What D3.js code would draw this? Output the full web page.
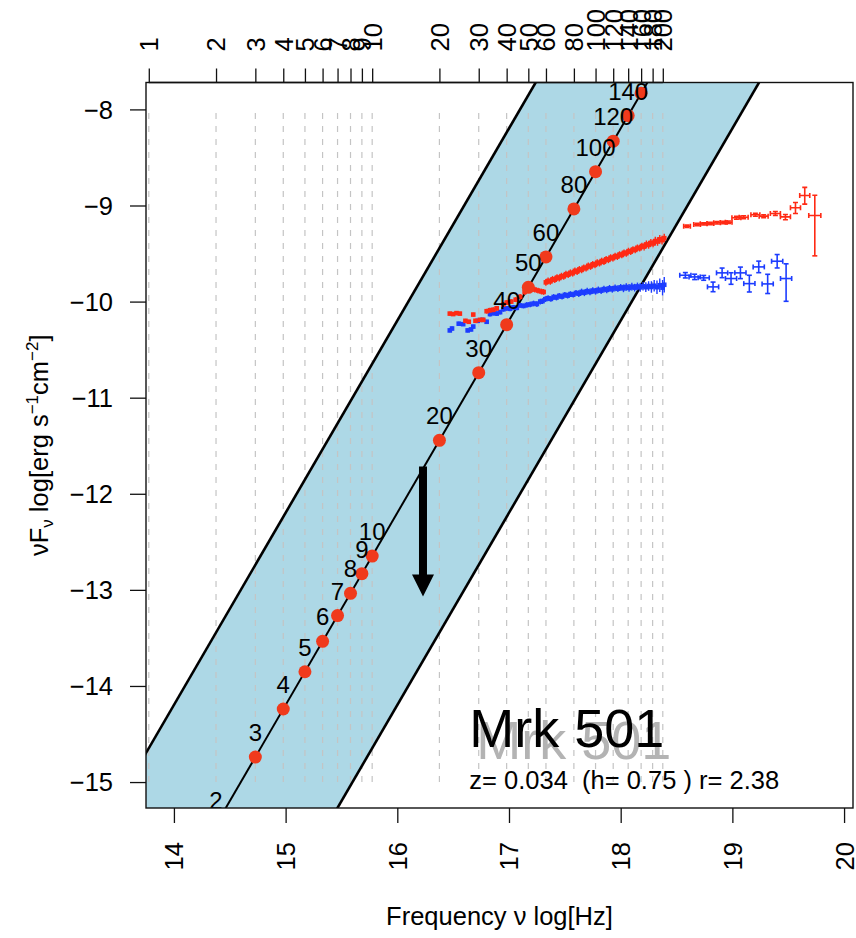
<!DOCTYPE html>
<html><head><meta charset="utf-8">
<script src="https://cdn.jsdelivr.net/npm/d3@7"></script>
<style>
body{margin:0;background:#fff}
svg{display:block}
text{font-family:"Liberation Sans",Arial,Helvetica,sans-serif;fill:#000}
</style>
</head><body>
<svg id="chart" width="856" height="938"></svg>
<script>
// ---------------- data ----------------
const xTicks = [14, 15, 16, 17, 18, 19, 20];
const yTicks = [-8, -9, -10, -11, -12, -13, -14, -15];

// top axis: harmonic number n and its log frequency
const topTickLabels = ["1","2","3","4","5","6","7","8","9","10","20","30","40","50","60","80","100","120","140","160","180","200"];
const topTickLogNu  = [13.775,14.377,14.729,14.979,15.173,15.331,15.465,15.581,15.683,15.775,16.377,16.729,16.979,17.173,17.331,17.581,17.775,17.933,18.067,18.183,18.286,18.377];

// red harmonic markers
const markerLabels  = ["2","3","4","5","6","7","8","9","10","20","30","40","50","60","80","100","120","140","160"];
const markerLogNu   = [14.377,14.729,14.979,15.173,15.331,15.465,15.581,15.683,15.775,16.377,16.729,16.979,17.173,17.331,17.581,17.775,17.933,18.067,18.183];
const markerLogFlux = [-15.444,-14.740,-14.240,-13.852,-13.535,-13.268,-13.036,-12.831,-12.648,-11.444,-10.740,-10.240,-9.852,-9.535,-9.036,-8.648,-8.331,-8.064,-7.832];

// lines (end points, log nu / log nuFnu)
const centerLine = [[13.5,-17.198],[20.5,-3.198]];
const upperLine  = [[13.5,-15.198],[20.5,-1.198]];
const lowerLine  = [[13.5,-19.198],[20.5,-5.198]];

// arrow (upper limit)
const arrowFrom = [16.23, -11.715];
const arrowTo   = [16.23, -13.07];

// red X-ray spectrum (dense): [logNu, logNuFnu, err]
const redDense = [
 [16.47,-10.125,.02],[16.50,-10.13,.02],[16.53,-10.12,.02],[16.56,-10.125,.02],[16.61,-10.20,.02],[16.64,-10.21,.02],
 [16.68,-10.135,.02],[16.70,-10.20,.02],[16.74,-10.19,.02],[16.77,-10.19,.02],[16.80,-10.10,.025],[16.83,-10.09,.025],
 [16.86,-10.085,.025],[16.89,-10.07,.025],[16.95,-10.03,.025],[16.98,-10.01,.025],[17.02,-10.00,.025],[17.06,-9.98,.025],
 [17.10,-9.95,.03],[17.14,-9.90,.03],[17.17,-9.86,.03],[17.20,-9.865,.03],[17.23,-9.875,.03],[17.26,-9.885,.03],
 [17.29,-9.895,.03],[17.31,-9.90,.03],
 [17.33,-9.80,.035],[17.35,-9.785,.035],[17.37,-9.79,.035],[17.39,-9.768,.035],[17.41,-9.772,.035],[17.43,-9.75,.035],
 [17.45,-9.755,.035],[17.47,-9.735,.035],[17.49,-9.738,.035],[17.51,-9.715,.035],[17.53,-9.72,.035],[17.55,-9.70,.035],
 [17.57,-9.705,.035],[17.59,-9.68,.035],[17.61,-9.688,.035],[17.63,-9.665,.035],[17.65,-9.67,.035],[17.67,-9.648,.035],
 [17.69,-9.652,.035],[17.71,-9.628,.035],[17.73,-9.635,.035],[17.75,-9.612,.035],[17.77,-9.618,.035],[17.79,-9.595,.035],
 [17.81,-9.60,.035],[17.83,-9.578,.035],[17.85,-9.585,.035],[17.87,-9.56,.035],[17.89,-9.565,.035],[17.91,-9.542,.035],
 [17.93,-9.548,.035],[17.95,-9.527,.035],[17.97,-9.532,.035],[17.99,-9.51,.035],[18.01,-9.515,.035],[18.03,-9.492,.035],
 [18.05,-9.498,.035],[18.07,-9.475,.035],[18.09,-9.48,.035],[18.11,-9.458,.035],[18.13,-9.462,.035],[18.15,-9.44,.035],
 [18.17,-9.445,.035],[18.19,-9.422,.035],[18.21,-9.428,.04],[18.23,-9.405,.04],[18.25,-9.41,.04],[18.27,-9.388,.04],
 [18.29,-9.395,.04],[18.31,-9.37,.045],[18.33,-9.375,.045],[18.35,-9.352,.045],[18.37,-9.36,.045],[18.39,-9.34,.045]
];

// blue X-ray spectrum (dense): [logNu, logNuFnu, err]
const blueDense = [
 [16.47,-10.30,.02],[16.49,-10.28,.02],[16.55,-10.23,.02],[16.59,-10.235,.02],[16.63,-10.30,.02],[16.66,-10.29,.02],
 [16.68,-10.26,.02],[16.72,-10.20,.02],[16.76,-10.19,.02],[16.80,-10.21,.02],[16.83,-10.13,.025],[16.86,-10.12,.025],
 [16.89,-10.125,.025],[16.92,-10.11,.025],[16.95,-10.08,.025],[16.98,-10.07,.025],[17.01,-10.075,.025],[17.04,-10.06,.025],
 [17.07,-10.065,.025],[17.10,-10.04,.025],[17.13,-10.045,.025],[17.16,-10.035,.03],[17.19,-10.03,.03],[17.22,-10.02,.03],
 [17.25,-10.025,.03],[17.28,-10.00,.03],
 [17.300,-9.995,.03],[17.325,-9.975,.03],[17.350,-9.965,.03],[17.375,-9.972,.03],[17.400,-9.952,.03],[17.425,-9.958,.03],
 [17.450,-9.940,.03],[17.475,-9.948,.03],[17.500,-9.930,.03],[17.525,-9.938,.03],[17.550,-9.922,.03],[17.575,-9.928,.03],
 [17.600,-9.910,.03],[17.625,-9.918,.035],[17.650,-9.900,.035],[17.675,-9.908,.035],[17.700,-9.892,.035],[17.725,-9.900,.035],
 [17.750,-9.885,.035],[17.775,-9.893,.035],[17.800,-9.878,.035],[17.825,-9.886,.035],[17.850,-9.870,.035],[17.875,-9.878,.035],
 [17.900,-9.862,.035],[17.925,-9.872,.035],[17.950,-9.858,.035],[17.975,-9.866,.035],[18.000,-9.852,.035],[18.025,-9.862,.04],
 [18.050,-9.848,.04],[18.075,-9.858,.04],[18.100,-9.845,.04],[18.125,-9.855,.04],[18.150,-9.842,.04],[18.175,-9.852,.045],
 [18.200,-9.840,.045],[18.225,-9.850,.05],[18.250,-9.838,.05],[18.275,-9.848,.06],[18.300,-9.835,.06],[18.325,-9.850,.07],
 [18.350,-9.830,.07],[18.375,-9.855,.08],[18.390,-9.825,.08]
];

// red sparse (hard X-ray): [logNu, logNuFnu, xErr, errUp, errDown]
const redSparse = [
 [18.594,-9.216,.03,.012,.012],[18.684,-9.198,.03,.012,.012],[18.743,-9.191,.03,.012,.012],[18.803,-9.188,.03,.012,.012],
 [18.863,-9.180,.03,.012,.012],[18.922,-9.177,.03,.012,.012],[18.967,-9.174,.03,.012,.012],[19.036,-9.128,.04,.015,.015],
 [19.101,-9.122,.04,.015,.015],[19.206,-9.097,.04,.015,.015],[19.280,-9.111,.04,.015,.015],[19.385,-9.083,.045,.02,.02],
 [19.475,-9.118,.045,.025,.03],[19.565,-9.024,.045,.055,.06],[19.648,-8.896,.045,.085,.09],[19.738,-9.104,.054,.21,.42]
];

// blue sparse (hard X-ray): [logNu, logNuFnu, xErr, errUp, errDown]
const blueSparse = [
 [18.579,-9.726,.05,.028,.028],[18.662,-9.743,.05,.028,.028],[18.743,-9.753,.05,.025,.025],[18.827,-9.847,.05,.05,.05],
 [18.908,-9.701,.05,.05,.05],[18.988,-9.760,.05,.06,.06],[19.072,-9.701,.05,.06,.06],[19.152,-9.813,.05,.087,.087],
 [19.236,-9.639,.05,.06,.06],[19.316,-9.816,.05,.10,.10],[19.401,-9.580,.05,.07,.07],[19.481,-9.760,.05,.153,.237]
];

const titleText = "Mrk 501";
const subtitleText = "z= 0.034  (h= 0.75 ) r= 2.38";

// ---------------- drawing ----------------
const svg = d3.select("#chart");
const L = 146, R = 853, T = 82.5, B = 808;
const x = d3.scaleLinear().domain([13.75, 20.08]).range([L, R]);
const y = d3.scaleLinear().domain([-15.27, -7.72]).range([B, T]);

const RED = "#f03a1c", REDDATA = "#ff2a14", BLUE = "#1c3cff";
const FS = 25.5, FSP = 24;

svg.append("rect").attr("width", 856).attr("height", 938).attr("fill", "#fff");

svg.append("defs").append("clipPath").attr("id", "clip")
  .append("rect").attr("x", L).attr("y", T).attr("width", R - L).attr("height", B - T);

const plot = svg.append("g").attr("clip-path", "url(#clip)");

// band
const bandPts = upperLine.concat(lowerLine.slice().reverse());
plot.append("path")
  .attr("d", d3.line().x(d => x(d[0])).y(d => y(d[1]))(bandPts) + "Z")
  .attr("fill", "#add8e6");

// dashed harmonic lines
plot.selectAll("line.harm").data(topTickLogNu).join("line")
  .attr("class", "harm")
  .attr("x1", d => x(d)).attr("x2", d => x(d))
  .attr("y1", y(-15)).attr("y2", y(-8))
  .attr("stroke", "#c4c4c4").attr("stroke-width", 1.2)
  .attr("stroke-dasharray", "6,7");

// band edge lines and center line
const lineGen = d3.line().x(d => x(d[0])).y(d => y(d[1]));
[upperLine, lowerLine].forEach(l => plot.append("path").attr("d", lineGen(l))
  .attr("stroke", "#000").attr("stroke-width", 2.6).attr("fill", "none"));
plot.append("path").attr("d", lineGen(centerLine))
  .attr("stroke", "#000").attr("stroke-width", 2).attr("fill", "none");

// spectra
function drawDense(data, color) {
  const g = plot.append("g").attr("stroke", color).attr("fill", color);
  data.forEach(d => {
    g.append("line").attr("x1", x(d[0])).attr("x2", x(d[0]))
      .attr("y1", y(d[1] + d[2])).attr("y2", y(d[1] - d[2])).attr("stroke-width", 1.4);
    g.append("line").attr("x1", x(d[0] - 0.015)).attr("x2", x(d[0] + 0.015))
      .attr("y1", y(d[1])).attr("y2", y(d[1])).attr("stroke-width", 1.4);
    g.append("rect").attr("x", x(d[0]) - 2.3).attr("y", y(d[1]) - 2.3)
      .attr("width", 4.6).attr("height", 4.6).attr("stroke", "none");
  });
}
function drawSparse(data, color) {
  const g = plot.append("g").attr("stroke", color).attr("stroke-width", 1.6).attr("fill", "none");
  const cap = 2.5;
  data.forEach(d => {
    const cx = x(d[0]), cy = y(d[1]);
    const xl = x(d[0] - d[2]), xr = x(d[0] + d[2]);
    const yt = y(d[1] + d[3]), yb = y(d[1] - d[4]);
    g.append("line").attr("x1", xl).attr("x2", xr).attr("y1", cy).attr("y2", cy);
    g.append("line").attr("x1", cx).attr("x2", cx).attr("y1", yt).attr("y2", yb);
    g.append("line").attr("x1", xl).attr("x2", xl).attr("y1", cy - cap).attr("y2", cy + cap);
    g.append("line").attr("x1", xr).attr("x2", xr).attr("y1", cy - cap).attr("y2", cy + cap);
    g.append("line").attr("x1", cx - cap).attr("x2", cx + cap).attr("y1", yt).attr("y2", yt);
    g.append("line").attr("x1", cx - cap).attr("x2", cx + cap).attr("y1", yb).attr("y2", yb);
  });
}
drawDense(blueDense, BLUE);
drawDense(redDense, REDDATA);
drawSparse(blueSparse, BLUE);
drawSparse(redSparse, REDDATA);

// harmonic markers
plot.selectAll("circle.mk").data(markerLogNu).join("circle")
  .attr("class", "mk")
  .attr("cx", d => x(d)).attr("cy", (d, i) => y(markerLogFlux[i]))
  .attr("r", 6.5).attr("fill", RED);
plot.selectAll("text.mk").data(markerLabels).join("text")
  .attr("class", "mk")
  .attr("x", (d, i) => x(markerLogNu[i]))
  .attr("y", (d, i) => y(markerLogFlux[i]) - 16)
  .attr("text-anchor", "middle").attr("font-size", FSP)
  .text(d => d);

// arrow
const ax = x(arrowFrom[0]), ay1 = y(arrowFrom[1]), ay2 = y(arrowTo[1]);
const headLen = 22, headHalf = 11;
plot.append("line").attr("x1", ax).attr("x2", ax).attr("y1", ay1).attr("y2", ay2 - headLen + 2)
  .attr("stroke", "#000").attr("stroke-width", 8);
plot.append("path")
  .attr("d", `M${ax - headHalf},${ay2 - headLen} L${ax + headHalf},${ay2 - headLen} L${ax},${ay2} Z`)
  .attr("fill", "#000");

// title with shadow
const tx = x(16.645);
plot.append("text").attr("x", tx + 7).attr("y", 759).attr("font-size", 54)
  .style("fill", "#b3b3b3").text(titleText);
plot.append("text").attr("x", tx).attr("y", 747).attr("font-size", 54).text(titleText);
plot.append("text").attr("x", tx).attr("y", 789).attr("font-size", FS)
  .style("white-space", "pre").attr("xml:space", "preserve").text(subtitleText);

// box
svg.append("rect").attr("x", L).attr("y", T).attr("width", R - L).attr("height", B - T)
  .attr("fill", "none").attr("stroke", "#111").attr("stroke-width", 1.4);

// axes
const axL = svg.append("g").attr("transform", `translate(${L},0)`)
  .call(d3.axisLeft(y).tickValues(yTicks).tickSize(16).tickPadding(17).tickFormat(d3.format("d")));
const axB = svg.append("g").attr("transform", `translate(0,${B})`)
  .call(d3.axisBottom(x).tickValues(xTicks).tickSize(15).tickFormat(d3.format("d")));
const axT = svg.append("g").attr("transform", `translate(0,${T})`)
  .call(d3.axisTop(x).tickValues(topTickLogNu).tickSize(14).tickFormat((d, i) => topTickLabels[i]));

[axL, axB, axT].forEach(a => {
  a.select(".domain").remove();
  a.selectAll(".tick line").attr("stroke", "#111").attr("stroke-width", 1.3);
  a.selectAll("text").attr("font-size", FS).attr("font-family", null).attr("fill", "#000");
});
axL.selectAll("text").attr("dy", "0.35em");
axB.selectAll("text").attr("transform", "rotate(-90)")
  .attr("x", -34).attr("y", 0).attr("dy", "0.35em").attr("text-anchor", "end");
axT.selectAll("text").attr("transform", "rotate(-90)")
  .attr("x", 31).attr("y", 0).attr("dy", "0.35em").attr("text-anchor", "start");
// top axis line spanning first to last tick
svg.append("line").attr("x1", x(topTickLogNu[0])).attr("x2", x(topTickLogNu[topTickLogNu.length - 1]))
  .attr("y1", T).attr("y2", T).attr("stroke", "#111").attr("stroke-width", 1.4);

// axis titles
svg.append("text").attr("x", (L + R) / 2).attr("y", 925).attr("text-anchor", "middle")
  .attr("font-size", FS).text("Frequency \u03bd log[Hz]");

const yl = svg.append("text").attr("transform", `translate(48,${(T + B) / 2}) rotate(-90)`)
  .attr("text-anchor", "middle").attr("font-size", FS);
yl.append("tspan").text("\u03bdF");
yl.append("tspan").attr("font-size", 17).attr("dy", 5).text("\u03bd");
yl.append("tspan").attr("dy", -5).text(" log[erg s");
yl.append("tspan").attr("font-size", 17).attr("dy", -10).text("\u22121");
yl.append("tspan").attr("dy", 10).text("cm");
yl.append("tspan").attr("font-size", 17).attr("dy", -10).text("\u22122");
yl.append("tspan").attr("dy", 10).text("]");
</script>
</body></html>
